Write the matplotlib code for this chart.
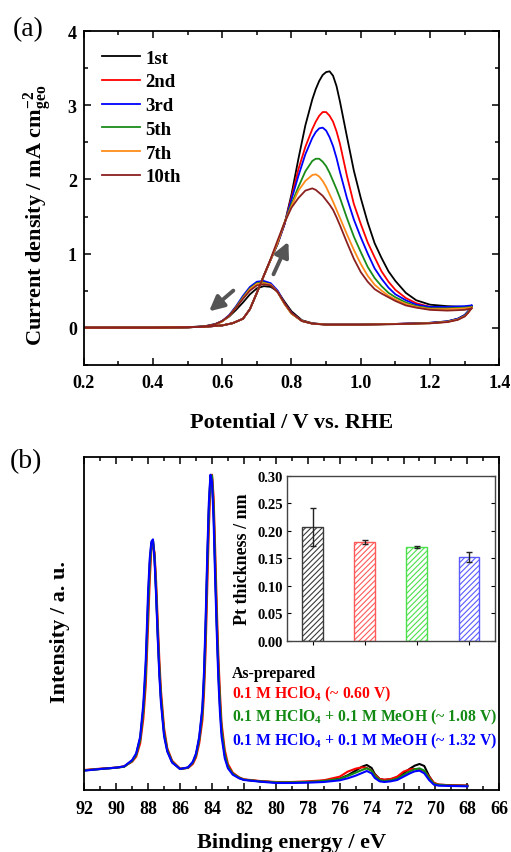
import matplotlib
matplotlib.use('Agg')
import matplotlib.pyplot as plt
from matplotlib.ticker import MultipleLocator, FormatStrFormatter

plt.rcParams['font.family'] = ['Liberation Serif', 'DejaVu Serif']
plt.rcParams['font.weight'] = 'bold'
plt.rcParams['axes.labelweight'] = 'bold'
plt.rcParams['mathtext.fontset'] = 'custom'
plt.rcParams['mathtext.rm'] = 'Liberation Serif:bold'
plt.rcParams['mathtext.it'] = 'Liberation Serif:bold:italic'
plt.rcParams['mathtext.bf'] = 'Liberation Serif:bold'
plt.rcParams['mathtext.default'] = 'rm'
plt.rcParams['hatch.linewidth'] = 0.8
plt.rcParams['axes.linewidth'] = 1.3

# ---------------- (a) CV data ----------------
cycle_labels = ['1st', '2nd', '3rd', '5th', '7th', '10th']
cycle_colors = ['#000000', '#ff0000', '#0000ff', '#1a8c1a', '#ff8c1a', '#8b2020']

pot_fwd = [0.20, 0.30, 0.40, 0.50, 0.55, 0.60, 0.63, 0.66, 0.68, 0.70, 0.72, 0.74,
           0.76, 0.78, 0.80, 0.82, 0.84, 0.86, 0.87, 0.88, 0.89, 0.90, 0.91, 0.92,
           0.93, 0.94, 0.96, 0.98, 1.00, 1.02, 1.04, 1.06, 1.08, 1.10, 1.13, 1.16,
           1.20, 1.25, 1.30, 1.32]
pot_fwd_1st = [0.28] + pot_fwd[1:]
pot_rev = [1.32, 1.31, 1.30, 1.28, 1.25, 1.20, 1.10, 1.00, 0.90, 0.86, 0.83, 0.80,
           0.78, 0.76, 0.74, 0.72, 0.70, 0.68, 0.66, 0.64, 0.62, 0.60, 0.58, 0.55,
           0.50, 0.40, 0.30, 0.20]

fwd_1st = [0.0, 0.0, 0.0, 0.005, 0.012, 0.03, 0.06, 0.12, 0.25, 0.47, 0.70, 0.92,
           1.13, 1.40, 1.80, 2.28, 2.73, 3.08, 3.22, 3.33, 3.41, 3.45, 3.46, 3.40,
           3.26, 3.05, 2.58, 2.12, 1.75, 1.42, 1.14, 0.94, 0.76, 0.63, 0.47, 0.37,
           0.31, 0.29, 0.28, 0.29]
fwd_2nd = [0.0, 0.0, 0.0, 0.005, 0.012, 0.03, 0.06, 0.12, 0.25, 0.47, 0.70, 0.92,
           1.14, 1.40, 1.76, 2.14, 2.44, 2.68, 2.78, 2.86, 2.91, 2.91, 2.86, 2.78,
           2.65, 2.48, 2.05, 1.67, 1.40, 1.15, 0.95, 0.76, 0.62, 0.51, 0.40, 0.33,
           0.28, 0.27, 0.28, 0.29]
fwd_3rd = [0.0, 0.0, 0.0, 0.005, 0.012, 0.03, 0.06, 0.12, 0.25, 0.47, 0.70, 0.92,
           1.14, 1.40, 1.73, 2.05, 2.34, 2.56, 2.64, 2.69, 2.70, 2.66, 2.57, 2.45,
           2.29, 2.10, 1.75, 1.46, 1.22, 1.00, 0.80, 0.66, 0.54, 0.45, 0.37, 0.31,
           0.28, 0.28, 0.29, 0.30]
fwd_5th = [0.0, 0.0, 0.0, 0.005, 0.012, 0.03, 0.06, 0.12, 0.25, 0.47, 0.70, 0.92,
           1.15, 1.42, 1.67, 1.90, 2.11, 2.25, 2.28, 2.28, 2.24, 2.18, 2.09, 1.98,
           1.87, 1.75, 1.48, 1.23, 1.02, 0.82, 0.67, 0.56, 0.47, 0.41, 0.34, 0.29,
           0.26, 0.26, 0.27, 0.28]
fwd_7th = [0.0, 0.0, 0.0, 0.005, 0.012, 0.03, 0.06, 0.12, 0.25, 0.47, 0.70, 0.92,
           1.15, 1.42, 1.64, 1.85, 1.98, 2.06, 2.07, 2.04, 1.98, 1.90, 1.80, 1.70,
           1.59, 1.48, 1.26, 1.05, 0.86, 0.70, 0.58, 0.50, 0.43, 0.38, 0.32, 0.28,
           0.25, 0.25, 0.26, 0.27]
fwd_10th = [0.0, 0.0, 0.0, 0.005, 0.012, 0.03, 0.06, 0.12, 0.25, 0.47, 0.70, 0.93,
            1.18, 1.42, 1.62, 1.75, 1.85, 1.88, 1.86, 1.82, 1.78, 1.72, 1.66, 1.59,
            1.49, 1.38, 1.15, 0.93, 0.75, 0.62, 0.52, 0.46, 0.41, 0.36, 0.30, 0.27,
            0.24, 0.23, 0.24, 0.26]

rev_1st = [0.29, 0.22, 0.17, 0.12, 0.085, 0.065, 0.05, 0.042, 0.042, 0.06, 0.10, 0.22,
           0.35, 0.49, 0.55, 0.56, 0.53, 0.45, 0.34, 0.24, 0.15, 0.09, 0.05, 0.02,
           0.006, 0.0, 0.0, 0.0]
rev_2nd = [0.29, 0.21, 0.16, 0.115, 0.08, 0.062, 0.05, 0.042, 0.042, 0.055, 0.09, 0.19,
           0.32, 0.48, 0.58, 0.61, 0.60, 0.53, 0.41, 0.28, 0.16, 0.085, 0.042, 0.014,
           0.005, 0.0, 0.0, 0.0]
rev_3rd = [0.30, 0.22, 0.17, 0.12, 0.085, 0.065, 0.05, 0.042, 0.042, 0.055, 0.09, 0.20,
           0.33, 0.50, 0.60, 0.63, 0.62, 0.55, 0.43, 0.29, 0.17, 0.09, 0.045, 0.015,
           0.005, 0.0, 0.0, 0.0]
rev_5th = [0.28, 0.21, 0.16, 0.11, 0.08, 0.06, 0.048, 0.041, 0.041, 0.054, 0.09, 0.19,
           0.32, 0.48, 0.58, 0.61, 0.60, 0.53, 0.41, 0.28, 0.16, 0.085, 0.042, 0.014,
           0.005, 0.0, 0.0, 0.0]
rev_7th = [0.27, 0.20, 0.155, 0.11, 0.078, 0.06, 0.048, 0.041, 0.041, 0.054, 0.09, 0.19,
           0.32, 0.48, 0.58, 0.60, 0.59, 0.52, 0.40, 0.27, 0.16, 0.085, 0.042, 0.014,
           0.005, 0.0, 0.0, 0.0]
rev_10th = [0.26, 0.20, 0.15, 0.105, 0.075, 0.058, 0.047, 0.04, 0.04, 0.054, 0.09, 0.20,
            0.33, 0.48, 0.57, 0.585, 0.57, 0.50, 0.39, 0.27, 0.16, 0.09, 0.045, 0.016,
            0.005, 0.0, 0.0, 0.0]

fwd_all = [fwd_1st, fwd_2nd, fwd_3rd, fwd_5th, fwd_7th, fwd_10th]
rev_all = [rev_1st, rev_2nd, rev_3rd, rev_5th, rev_7th, rev_10th]
pot_fwd_all = [pot_fwd_1st, pot_fwd, pot_fwd, pot_fwd, pot_fwd, pot_fwd]

# scan-direction arrows (tail, head) in data units
arrow_fwd = ((0.748, 0.72), (0.791, 1.16))
arrow_rev = ((0.632, 0.50), (0.562, 0.22))

# ---------------- (b) XPS data ----------------
be = [92.0, 91.0, 90.0, 89.5, 89.0, 88.75, 88.5, 88.3, 88.15, 88.0, 87.9, 87.8, 87.7,
      87.6, 87.5, 87.4, 87.3, 87.2, 87.0, 86.8, 86.5, 86.0, 85.5, 85.2, 85.0, 84.8,
      84.6, 84.5, 84.4, 84.3, 84.2, 84.1, 84.0, 83.9, 83.8, 83.7, 83.6, 83.5, 83.4,
      83.2, 83.0, 82.7, 82.3, 82.0, 81.0, 80.0, 79.0, 78.0, 77.0, 76.0, 75.5, 75.0,
      74.6, 74.3, 74.0, 73.8, 73.5, 73.2, 72.8, 72.4, 72.0, 71.6, 71.3, 71.0, 70.7,
      70.4, 70.1, 69.8, 69.0, 68.0]
xps_asprep = [0.059, 0.063, 0.067, 0.070, 0.088, 0.107, 0.155, 0.245, 0.365, 0.570,
              0.680, 0.740, 0.750, 0.698, 0.592, 0.468, 0.358, 0.274, 0.168, 0.118,
              0.084, 0.063, 0.067, 0.083, 0.106, 0.155, 0.240, 0.335, 0.485, 0.675,
              0.840, 0.940, 0.938, 0.835, 0.660, 0.495, 0.355, 0.252, 0.176, 0.104,
              0.069, 0.048, 0.036, 0.031, 0.026, 0.023, 0.023, 0.024, 0.028, 0.034,
              0.044, 0.058, 0.070, 0.075, 0.066, 0.048, 0.033, 0.030, 0.032, 0.038,
              0.050, 0.064, 0.073, 0.078, 0.072, 0.042, 0.020, 0.016, 0.014, 0.013]
xps_060 = [0.060, 0.064, 0.067, 0.071, 0.085, 0.100, 0.140, 0.215, 0.315, 0.500,
           0.630, 0.720, 0.740, 0.712, 0.625, 0.505, 0.392, 0.300, 0.185, 0.125,
           0.088, 0.064, 0.066, 0.078, 0.098, 0.140, 0.210, 0.290, 0.420, 0.600,
           0.780, 0.910, 0.946, 0.880, 0.720, 0.550, 0.400, 0.290, 0.200, 0.120,
           0.078, 0.052, 0.038, 0.032, 0.027, 0.024, 0.024, 0.026, 0.029, 0.040,
           0.055, 0.064, 0.068, 0.066, 0.058, 0.045, 0.033, 0.031, 0.033, 0.040,
           0.055, 0.062, 0.063, 0.062, 0.056, 0.040, 0.022, 0.016, 0.014, 0.013]
xps_108 = [0.059, 0.063, 0.067, 0.070, 0.087, 0.105, 0.150, 0.237, 0.350, 0.550,
           0.665, 0.735, 0.748, 0.702, 0.602, 0.478, 0.368, 0.282, 0.172, 0.120,
           0.085, 0.063, 0.067, 0.082, 0.104, 0.150, 0.230, 0.320, 0.465, 0.655,
           0.825, 0.935, 0.944, 0.850, 0.680, 0.510, 0.368, 0.262, 0.182, 0.108,
           0.071, 0.049, 0.037, 0.031, 0.026, 0.023, 0.023, 0.024, 0.027, 0.033,
           0.042, 0.052, 0.060, 0.065, 0.058, 0.042, 0.030, 0.027, 0.029, 0.034,
           0.045, 0.056, 0.062, 0.065, 0.058, 0.036, 0.019, 0.015, 0.013, 0.012]
xps_132 = [0.058, 0.063, 0.067, 0.071, 0.090, 0.110, 0.160, 0.260, 0.390, 0.600,
           0.695, 0.745, 0.752, 0.690, 0.580, 0.455, 0.345, 0.262, 0.160, 0.115,
           0.082, 0.063, 0.068, 0.085, 0.110, 0.160, 0.250, 0.355, 0.510, 0.700,
           0.860, 0.946, 0.925, 0.810, 0.630, 0.470, 0.330, 0.230, 0.160, 0.095,
           0.065, 0.046, 0.035, 0.030, 0.025, 0.021, 0.021, 0.022, 0.024, 0.029,
           0.035, 0.043, 0.051, 0.057, 0.050, 0.036, 0.026, 0.024, 0.026, 0.030,
           0.040, 0.050, 0.056, 0.058, 0.050, 0.030, 0.016, 0.013, 0.012, 0.011]
xps_all = [xps_asprep, xps_060, xps_108, xps_132]
xps_colors = ['#000000', '#ff0000', '#138a13', '#0000ff']
xps_labels = ['As-prepared',
              r'0.1 M HClO$_4$ (~ 0.60 V)',
              r'0.1 M HClO$_4$ + 0.1 M MeOH (~ 1.08 V)',
              r'0.1 M HClO$_4$ + 0.1 M MeOH (~ 1.32 V)']

# inset bar data
bar_pos = [1, 2, 3, 4]
thickness = [0.207, 0.180, 0.170, 0.152]
thickness_err = [0.035, 0.0035, 0.0015, 0.0085]
bar_colors = ['#3a3a3a', '#ff5a5a', '#4ce04c', '#5a5aff']

# ---------------- figure ----------------
fig = plt.figure(figsize=(5.11, 8.53), dpi=100)

ax1 = fig.add_axes([0.1638, 0.5713, 0.8133, 0.3908])
for pf, fw, rv, c, lab in zip(pot_fwd_all, fwd_all, rev_all, cycle_colors, cycle_labels):
    ax1.plot(pf, fw, color=c, lw=1.3, label=lab)
    ax1.plot(pot_rev, rv, color=c, lw=1.3)

for (tail, head) in (arrow_fwd, arrow_rev):
    ax1.annotate('', xy=head, xytext=tail,
                 arrowprops=dict(arrowstyle='-|>', color='#555555', lw=2.8,
                                 mutation_scale=22, shrinkA=0, shrinkB=0))

ax1.set_xlim(0.2, 1.4)
ax1.set_ylim(-0.5, 4)
ax1.xaxis.set_major_locator(MultipleLocator(0.2))
ax1.xaxis.set_minor_locator(MultipleLocator(0.1))
ax1.yaxis.set_major_locator(MultipleLocator(1))
ax1.yaxis.set_minor_locator(MultipleLocator(0.5))
ax1.xaxis.set_major_formatter(FormatStrFormatter('%.1f'))
ax1.yaxis.set_major_formatter(FormatStrFormatter('%d'))
ax1.tick_params(which='both', direction='in', top=True, right=True, width=1.1)
ax1.tick_params(which='major', length=5, labelsize=13)
ax1.tick_params(which='minor', length=3)
ax1.tick_params(axis='x', pad=7)
ax1.tick_params(axis='y', pad=5)
ax1.set_xlabel('Potential / V vs. RHE', fontsize=16, labelpad=15)
ax1.set_ylabel(r'Current density / mA cm$^{-2}_{\mathregular{geo}}$', fontsize=16)
ax1.yaxis.set_label_coords(-0.0715, 0.452)
ax1.legend(loc='upper left', bbox_to_anchor=(0.0433, 0.945), frameon=False,
           prop={'size': 13.5, 'weight': 'bold'}, handlelength=2.04,
           handletextpad=0.3, labelspacing=0.35, borderpad=0, borderaxespad=0)

ax2 = fig.add_axes([0.165, 0.0727, 0.8121, 0.3907])
for y, c in zip(xps_all, xps_colors):
    ax2.plot(be, y, color=c, lw=1.5)
ax2.set_xlim(92, 66)
ax2.set_ylim(0, 1.0)
ax2.xaxis.set_major_locator(MultipleLocator(2))
ax2.xaxis.set_minor_locator(MultipleLocator(1))
ax2.set_yticks([])
ax2.tick_params(which='both', direction='in', top=True, width=1.1)
ax2.tick_params(which='major', length=5, labelsize=13, pad=7)
ax2.tick_params(which='minor', length=3)
ax2.set_xlabel('Binding energy / eV', fontsize=16, labelpad=11)
ax2.set_ylabel('Intensity / a. u.', fontsize=16)
ax2.yaxis.set_label_coords(-0.0335, 0.477)

text_base = [0.338, 0.278, 0.208, 0.136]
for lab, c, yb in zip(xps_labels, xps_colors, text_base):
    ax2.text(0.355, yb, lab, color=c, fontsize=11.3, transform=ax2.transAxes,
             va='baseline', ha='left')

axin = fig.add_axes([0.561, 0.2477, 0.4077, 0.1934])
axin.bar(bar_pos, thickness, width=0.4, facecolor='white', edgecolor=bar_colors,
         hatch='//////', lw=1.0)
axin.errorbar(bar_pos, thickness, yerr=thickness_err, fmt='none', ecolor='#222222',
              elinewidth=1.0, capsize=2.5, capthick=1.0)
axin.set_xlim(0.5, 4.5)
axin.set_ylim(0, 0.30)
axin.set_xticks(bar_pos)
axin.set_xticklabels([])
axin.yaxis.set_major_locator(MultipleLocator(0.05))
axin.yaxis.set_major_formatter(FormatStrFormatter('%.2f'))
axin.tick_params(axis='y', direction='in', right=True, length=3, labelsize=10.5, pad=2.5)
axin.tick_params(axis='x', direction='out', length=3)
for sp in axin.spines.values():
    sp.set_color('#444444')
    sp.set_linewidth(1.0)
axin.set_ylabel('Pt thickness / nm', fontsize=13, labelpad=5)

fig.text(0.0558, 0.9648, '(a)', fontsize=20, fontweight='normal', ha='center', va='center')
fig.text(0.0499, 0.4584, '(b)', fontsize=20, fontweight='normal', ha='center', va='center')

fig.savefig('out.png', dpi=100)
